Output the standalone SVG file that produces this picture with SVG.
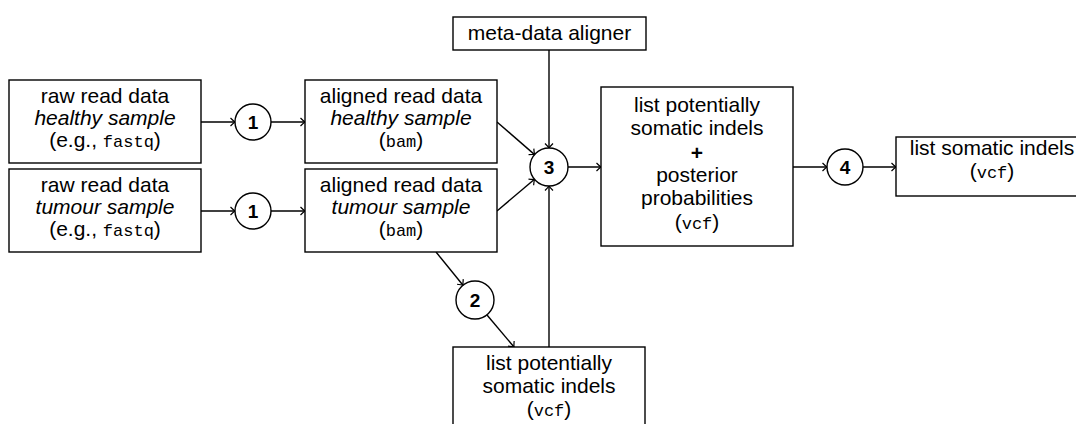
<svg xmlns="http://www.w3.org/2000/svg" width="1076" height="424" viewBox="0 0 1076 424">
<style>
.box{fill:#fff;stroke:#000;stroke-width:1.4}
.circ{fill:#fff;stroke:#000;stroke-width:1.4}
.t{font-family:"Liberation Sans",Arial,sans-serif;font-size:21px;fill:#000;text-anchor:middle}
.i{font-style:italic}
.m{font-family:"Liberation Mono","Courier New",monospace;font-size:17px}
.n{font-family:"Liberation Sans",Arial,sans-serif;font-size:19px;font-weight:bold;fill:#000;text-anchor:middle}
.c{fill:none;stroke:#000;stroke-width:1.4}
</style>
<defs>
<marker id="arr" markerUnits="userSpaceOnUse" markerWidth="12" markerHeight="12" viewBox="-6 -6 12 12" refX="0" refY="0" orient="auto" overflow="visible">
<path d="M -4.5 -4 Q -1.5 -1 0 0 Q -1.5 1 -4.5 4" fill="none" stroke="#000" stroke-width="1.2"/>
</marker>
</defs>
<rect width="1076" height="424" fill="#fff"/>
<g id="connectors">
<line class="c" x1="201" y1="122" x2="235" y2="122" marker-end="url(#arr)"/>
<line class="c" x1="271" y1="122" x2="305" y2="122" marker-end="url(#arr)"/>
<line class="c" x1="201" y1="211" x2="235" y2="211" marker-end="url(#arr)"/>
<line class="c" x1="271" y1="211" x2="305" y2="211" marker-end="url(#arr)"/>
<line class="c" x1="497" y1="122" x2="534.6" y2="154.6" marker-end="url(#arr)"/>
<line class="c" x1="497" y1="211" x2="534.5" y2="179.3" marker-end="url(#arr)"/>
<line class="c" x1="549" y1="50" x2="549" y2="148" marker-end="url(#arr)"/>
<line class="c" x1="549" y1="347" x2="549" y2="186" marker-end="url(#arr)"/>
<line class="c" x1="568" y1="167" x2="601" y2="167" marker-end="url(#arr)"/>
<line class="c" x1="793" y1="167" x2="827" y2="167" marker-end="url(#arr)"/>
<line class="c" x1="863" y1="167" x2="896" y2="167" marker-end="url(#arr)"/>
<line class="c" x1="436" y1="252" x2="463" y2="285.2" marker-end="url(#arr)"/>
<line class="c" x1="487" y1="315" x2="514" y2="347" marker-end="url(#arr)"/>
</g>
<g id="raw-healthy">
<rect class="box" x="9" y="80" width="192" height="83"/>
<text class="t" x="105" y="103">raw read data</text>
<text class="t i" x="105" y="125">healthy sample</text>
<text class="t" x="105" y="147">(e.g., <tspan class="m">fastq</tspan>)</text>
</g>
<g id="raw-tumour">
<rect class="box" x="9" y="169" width="192" height="83"/>
<text class="t" x="105" y="192">raw read data</text>
<text class="t i" x="105" y="214">tumour sample</text>
<text class="t" x="105" y="236">(e.g., <tspan class="m">fastq</tspan>)</text>
</g>
<g id="step1a"><circle class="circ" cx="253" cy="122" r="18"/><text class="n" x="253" y="129">1</text></g>
<g id="step1b"><circle class="circ" cx="253" cy="211" r="18"/><text class="n" x="253" y="218">1</text></g>
<g id="aligned-healthy">
<rect class="box" x="305" y="80" width="192" height="83"/>
<text class="t" x="401" y="103">aligned read data</text>
<text class="t i" x="401" y="125">healthy sample</text>
<text class="t" x="401" y="147">(<tspan class="m">bam</tspan>)</text>
</g>
<g id="aligned-tumour">
<rect class="box" x="305" y="169" width="192" height="83"/>
<text class="t" x="401" y="192">aligned read data</text>
<text class="t i" x="401" y="214">tumour sample</text>
<text class="t" x="401" y="236">(<tspan class="m">bam</tspan>)</text>
</g>
<g id="meta">
<rect class="box" x="453" y="17" width="193" height="33"/>
<text class="t" x="549.5" y="40">meta-data aligner</text>
</g>
<g id="step3"><circle class="circ" cx="549" cy="167" r="19"/><text class="n" x="549" y="174">3</text></g>
<g id="step2"><circle class="circ" cx="475" cy="300" r="19"/><text class="n" x="475" y="307">2</text></g>
<g id="candidates">
<rect class="box" x="453" y="347" width="192" height="90"/>
<text class="t" x="549" y="370">list potentially</text>
<text class="t" x="549" y="393">somatic indels</text>
<text class="t" x="549" y="416">(<tspan class="m">vcf</tspan>)</text>
</g>
<g id="posterior">
<rect class="box" x="601" y="87" width="192" height="159"/>
<text class="t" x="697" y="112">list potentially</text>
<text class="t" x="697" y="135">somatic indels</text>
<text class="t" x="697" y="160" font-weight="bold">+</text>
<text class="t" x="697" y="182">posterior</text>
<text class="t" x="697" y="205">probabilities</text>
<text class="t" x="697" y="229">(<tspan class="m">vcf</tspan>)</text>
</g>
<g id="step4"><circle class="circ" cx="845" cy="167" r="18"/><text class="n" x="845" y="174">4</text></g>
<g id="somatic">
<rect class="box" x="896" y="137" width="192" height="59"/>
<text class="t" x="992" y="155">list somatic indels</text>
<text class="t" x="992" y="178">(<tspan class="m">vcf</tspan>)</text>
</g>
</svg>
